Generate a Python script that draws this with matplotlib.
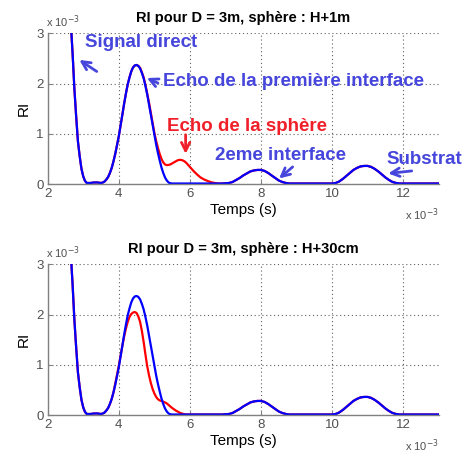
import numpy as np
import matplotlib
matplotlib.use('Agg')
import matplotlib.pyplot as plt

# time in ms (x 10^-3 s): fine steps around the main echo, coarser after
t_ms = np.round(np.r_[np.arange(2.6, 6.001, 0.05), np.arange(6.1, 13.001, 0.1)], 2)

# RI values (x 10^-3)
ri_interface = [4.0, 3.2, 2.6, 1.9, 1.35, 0.85, 0.55, 0.3, 0.15, 0.06,
                0.02, 0.02, 0.02, 0.025, 0.03, 0.03, 0.03, 0.025, 0.02, 0.03,
                0.05, 0.09, 0.14, 0.22, 0.32, 0.45, 0.6, 0.77, 0.95, 1.16,
                1.38, 1.6, 1.8, 1.98, 2.12, 2.24, 2.32, 2.36, 2.37, 2.35,
                2.3, 2.21, 2.1, 1.95, 1.78, 1.58, 1.38, 1.17, 0.97, 0.79,
                0.62, 0.47, 0.33, 0.22, 0.13, 0.07, 0.03, 0.015, 0.01,
                0.01, 0.01, 0.01, 0.01, 0.01, 0.01, 0.01, 0.01, 0.01, 0.01,
                # 6.1 .. 13.0
                0.01, 0.01, 0.01, 0.01, 0.01, 0.01, 0.01, 0.01, 0.01, 0.015,
                0.02, 0.04, 0.08, 0.12, 0.17, 0.21, 0.25, 0.27, 0.28, 0.28,
                0.26, 0.22, 0.17, 0.12, 0.07, 0.04, 0.02,
                0.01, 0.01, 0.01, 0.01, 0.01, 0.01, 0.01, 0.01, 0.01, 0.01, 0.01, 0.01, 0.01,
                0.02, 0.05, 0.1, 0.16, 0.22, 0.28, 0.32, 0.35, 0.36, 0.36,
                0.34, 0.3, 0.25, 0.19, 0.13, 0.08, 0.04, 0.02,
                0.01, 0.01, 0.01, 0.01, 0.01, 0.01, 0.01, 0.01, 0.01, 0.01, 0.01, 0.01]

ri_sphere_1m = [4.0, 3.2, 2.6, 1.9, 1.35, 0.85, 0.55, 0.3, 0.15, 0.06,
                0.02, 0.02, 0.02, 0.025, 0.03, 0.03, 0.03, 0.025, 0.02, 0.03,
                0.05, 0.09, 0.14, 0.22, 0.32, 0.45, 0.6, 0.77, 0.95, 1.16,
                1.38, 1.6, 1.8, 1.98, 2.12, 2.24, 2.32, 2.36, 2.37, 2.35,
                2.31, 2.22, 2.12, 1.97, 1.8, 1.62, 1.42, 1.22, 1.02, 0.86,
                0.72, 0.6, 0.5, 0.43, 0.39, 0.375, 0.38, 0.39, 0.41,
                0.43, 0.45, 0.47, 0.48, 0.48, 0.47, 0.45, 0.42, 0.38, 0.34,
                # 6.1 .. 13.0
                0.26, 0.19, 0.13, 0.09, 0.06, 0.035, 0.02, 0.01, 0.01, 0.015,
                0.02, 0.04, 0.08, 0.12, 0.17, 0.21, 0.25, 0.27, 0.28, 0.28,
                0.26, 0.22, 0.17, 0.12, 0.07, 0.04, 0.02,
                0.01, 0.01, 0.01, 0.01, 0.01, 0.01, 0.01, 0.01, 0.01, 0.01, 0.01, 0.01, 0.01,
                0.02, 0.05, 0.1, 0.16, 0.22, 0.28, 0.32, 0.35, 0.36, 0.36,
                0.34, 0.3, 0.25, 0.19, 0.13, 0.08, 0.04, 0.02,
                0.01, 0.01, 0.01, 0.01, 0.01, 0.01, 0.01, 0.01, 0.01, 0.01, 0.01, 0.01]

ri_sphere_30cm = [4.0, 3.2, 2.6, 1.9, 1.35, 0.85, 0.55, 0.3, 0.15, 0.06,
                  0.02, 0.02, 0.02, 0.025, 0.03, 0.03, 0.03, 0.025, 0.02, 0.03,
                  0.05, 0.09, 0.14, 0.22, 0.32, 0.45, 0.62, 0.8, 0.98, 1.18,
                  1.38, 1.56, 1.72, 1.85, 1.95, 2.01, 2.04, 2.05, 2.03, 1.96,
                  1.85, 1.67, 1.45, 1.2, 0.97, 0.79, 0.64, 0.52, 0.43, 0.36,
                  0.315, 0.29, 0.28, 0.265, 0.25, 0.23, 0.2, 0.17, 0.14,
                  0.115, 0.09, 0.07, 0.05, 0.035, 0.025, 0.015, 0.01, 0.01, 0.01,
                  # 6.1 .. 13.0
                  0.01, 0.01, 0.01, 0.01, 0.01, 0.01, 0.01, 0.01, 0.01, 0.015,
                  0.02, 0.04, 0.08, 0.12, 0.17, 0.21, 0.25, 0.27, 0.28, 0.28,
                  0.26, 0.22, 0.17, 0.12, 0.07, 0.04, 0.02,
                  0.01, 0.01, 0.01, 0.01, 0.01, 0.01, 0.01, 0.01, 0.01, 0.01, 0.01, 0.01, 0.01,
                  0.02, 0.05, 0.1, 0.16, 0.22, 0.28, 0.32, 0.35, 0.36, 0.36,
                  0.34, 0.3, 0.25, 0.19, 0.13, 0.08, 0.04, 0.02,
                  0.01, 0.01, 0.01, 0.01, 0.01, 0.01, 0.01, 0.01, 0.01, 0.01, 0.01, 0.01]

titles = ['RI pour D = 3m, sphère : H+1m', 'RI pour D = 3m, sphère : H+30cm']
xticks = [2, 4, 6, 8, 10, 12]
yticks = [0, 1, 2, 3]

plt.rcParams['font.family'] = ['Liberation Sans', 'DejaVu Sans']

fig = plt.figure(figsize=(4.7, 4.55), dpi=100)
ax1 = fig.add_axes([0.1015, 0.5956, 0.832, 0.3312])
ax2 = fig.add_axes([0.1015, 0.0879, 0.832, 0.3312])

blue = '#0000ff'
red = '#ff0000'
gray = '#505050'
txtblue = '#4646dc'
txtred = '#f0202a'

for ax, red_curve, title in [(ax1, ri_sphere_1m, titles[0]), (ax2, ri_sphere_30cm, titles[1])]:
    ax.plot(t_ms, red_curve, color=red, lw=1.6, solid_joinstyle='round')
    ax.plot(t_ms, ri_interface, color=blue, lw=1.6, solid_joinstyle='round')
    ax.set_xlim(2, 13)
    ax.set_ylim(0, 3)
    ax.set_xticks(xticks)
    ax.set_yticks(yticks)
    ax.grid(True, linestyle=(0, (1, 2.5)), color='#606060', lw=0.8)
    ax.spines['top'].set_visible(False)
    ax.spines['right'].set_visible(False)
    for s in ['left', 'bottom']:
        ax.spines[s].set_color('#808080')
        ax.spines[s].set_linewidth(1.0)
    ax.tick_params(direction='in', length=3, colors='#808080', labelcolor=gray,
                   labelsize=9.5, pad=3)
    ax.set_title(title, fontsize=10.5, fontweight='bold', pad=8)
    ax.set_xlabel('Temps (s)', fontsize=11, labelpad=2)
    ax.set_ylabel('RI', fontsize=11, labelpad=4)
    ax.text(-0.005, 1.02, r'x 10$^{-3}$', transform=ax.transAxes, fontsize=8,
            color=gray, ha='left', va='bottom')
    ax.text(1.0, -0.235, r'x 10$^{-3}$', transform=ax.transAxes, fontsize=8,
            color=gray, ha='right', va='baseline')

# annotations on the first plot
labels = ['Signal direct', 'Echo de la première interface', 'Echo de la sphère',
          '2eme interface', 'Substrat']
label_xy = [(3.05, 2.81), (5.24, 2.05), (5.36, 1.15), (6.71, 0.56), (11.54, 0.48)]
arrow_tail = [(3.38, 2.24), (5.10, 2.01), (5.88, 0.98), (8.89, 0.34), (12.24, 0.26)]
arrow_head = [(2.89, 2.47), (4.79, 2.11), (5.88, 0.60), (8.51, 0.11), (11.58, 0.21)]
label_colors = [txtblue, txtblue, txtred, txtblue, txtblue]

for lab, xy, tail, head, c in zip(labels, label_xy, arrow_tail, arrow_head, label_colors):
    ax1.text(xy[0], xy[1], lab, color=c, fontsize=13.5, fontweight='bold',
             ha='left', va='center', clip_on=False)
    ax1.annotate('', xy=head, xytext=tail,
                 arrowprops=dict(arrowstyle='->', color=c, lw=2,
                                 mutation_scale=15, shrinkA=0, shrinkB=0))

fig.savefig('out.png', dpi=100)
